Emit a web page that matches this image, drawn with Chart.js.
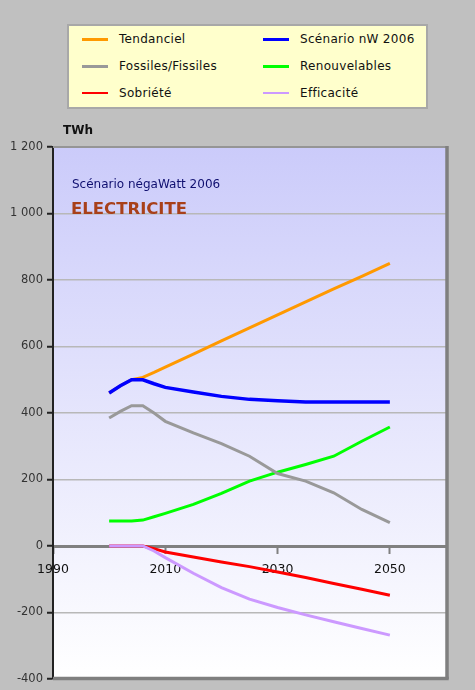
<!DOCTYPE html>
<html><head><meta charset="utf-8">
<script src="https://cdn.jsdelivr.net/npm/chart.js@4.4.1/dist/chart.umd.min.js"></script>
<style>
html,body{margin:0;padding:0;background:#c0c0c0;}
#wrap{position:relative;width:475px;height:690px;overflow:hidden;font-family:"DejaVu Sans",sans-serif;}
#c{position:absolute;left:0;top:0;}
#legend{position:absolute;left:67px;top:24px;width:361px;height:85px;box-sizing:border-box;background:#ffffcc;border:2px solid #a8a8a8;}
.li{position:absolute;height:16px;line-height:16px;font-size:12px;color:#111;white-space:nowrap;letter-spacing:0.3px;}
.sw{position:absolute;width:26px;}
.note{position:absolute;white-space:nowrap;}
</style></head><body>
<div id="wrap">
<canvas id="c" width="475" height="690"></canvas>
<div id="legend"></div>
<div class="note" style="left:63px;top:123px;font-size:12px;font-weight:bold;color:#111;">TWh</div>
<div class="note" style="left:72px;top:177px;font-size:12px;color:#101070;">Scénario négaWatt 2006</div>
<div class="note" style="left:71px;top:199px;font-size:16.5px;font-weight:bold;color:#a8401a;">ELECTRICITE</div>
</div>
<script>
// ---- data ----
const years = [2000, 2002, 2004, 2006, 2008, 2010, 2015, 2020, 2025, 2030, 2035, 2040, 2045, 2050];
const tendanciel    = [460, 482, 500, 507, 522, 538, 577, 617, 656, 695, 734, 773, 811, 850];
const scenarioNW    = [460, 482, 500, 500, 488, 477, 463, 450, 441, 437, 433, 433, 433, 433];
const fossiles      = [385, 405, 422, 422, 400, 375, 340, 308, 270, 218, 195, 160, 110, 70];
const renouvelables = [75, 75, 75, 78, 88, 98, 125, 158, 195, 222, 245, 270, 315, 358];
const sobriete      = [0, 0, 0, 0, -8, -18, -33, -48, -62, -78, -95, -113, -130, -148];
const efficacite    = [0, 0, 0, 0, -15, -35, -82, -125, -160, -185, -207, -228, -248, -268];
const seriesNames = ["Tendanciel", "Scénario nW 2006", "Fossiles/Fissiles", "Renouvelables", "Sobriété", "Efficacité"];
const seriesData = [tendanciel, scenarioNW, fossiles, renouvelables, sobriete, efficacite];
const seriesColors = ["#ff9900", "#0000ff", "#999999", "#00ff00", "#ff0000", "#cc99ff"];
const yTicks = [-400, -200, 0, 200, 400, 600, 800, 1000, 1200];
const xTicks = [1990, 2010, 2030, 2050];

// ---- legend (HTML) ----
const lw = [3, 3, 3, 3, 2, 2];
const leg = document.getElementById('legend');
seriesNames.forEach((n, i) => {
  const col = i % 2, row = Math.floor(i / 2);
  const cy = 13 + row * 27;
  const sw = document.createElement('div');
  sw.className = 'sw';
  sw.style.left = (col ? 194 : 13) + 'px';
  sw.style.top = (cy - lw[i] / 2) + 'px';
  sw.style.height = lw[i] + 'px';
  sw.style.background = seriesColors[i];
  leg.appendChild(sw);
  const t = document.createElement('div');
  t.className = 'li';
  t.style.left = (col ? 231 : 50) + 'px';
  t.style.top = (cy - 8) + 'px';
  t.textContent = n;
  leg.appendChild(t);
});

// ---- plugins ----
const bgPlugin = {
  id: 'bg',
  beforeDraw(chart) {
    const {ctx, chartArea: a} = chart;
    ctx.save();
    ctx.fillStyle = '#c0c0c0';
    ctx.fillRect(0, 0, chart.width, chart.height);
    const g = ctx.createLinearGradient(0, a.top, 0, a.bottom);
    g.addColorStop(0, '#cbcbfa');
    g.addColorStop(1, '#ffffff');
    ctx.fillStyle = g;
    ctx.fillRect(a.left, a.top, a.right - a.left, a.bottom - a.top);
    ctx.restore();
  },
  afterDatasetsDraw(chart) {
    const {ctx, chartArea: a} = chart;
    ctx.save();
    ctx.strokeStyle = '#959595';
    ctx.lineWidth = 2;
    ctx.beginPath(); ctx.moveTo(a.left, a.top); ctx.lineTo(a.right + 1, a.top); ctx.stroke();
    ctx.strokeStyle = '#7f7f7f';
    ctx.lineWidth = 3.5;
    ctx.beginPath(); ctx.moveTo(a.right + 1, a.top - 1); ctx.lineTo(a.right + 1, a.bottom); ctx.stroke();
    ctx.beginPath(); ctx.moveTo(a.left, a.bottom - 0.5); ctx.lineTo(a.right + 2.7, a.bottom - 0.5); ctx.stroke();
    ctx.restore();
  }
};

const orders = [3, 0, 4, 5, 2, 1];
const widths = [3, 3.5, 3, 3, 3, 3];
const datasets = seriesNames.map((n, i) => ({
  label: n,
  data: years.map((y, k) => ({x: y, y: seriesData[i][k]})),
  borderColor: seriesColors[i],
  backgroundColor: seriesColors[i],
  borderWidth: widths[i],
  pointRadius: 0,
  tension: 0,
  fill: false,
  order: orders[i]
}));

const fmt = v => String(v).replace(/\B(?=(\d{3})+(?!\d))/g, ' ');

new Chart(document.getElementById('c'), {
  type: 'line',
  data: {datasets},
  plugins: [bgPlugin],
  options: {
    responsive: false,
    animation: false,
    layout: {padding: {left: 0, top: 147, right: 29, bottom: 11}},
    plugins: {legend: {display: false}, tooltip: {enabled: false}},
    scales: {
      x: {
        type: 'linear',
        min: 1990, max: 2060,
        position: {y: 0},
        afterBuildTicks(s) { s.ticks = xTicks.map(v => ({value: v})); },
        ticks: {
          font: {family: 'DejaVu Sans', size: 12.5},
          color: '#111',
          padding: 10,
          maxRotation: 0,
          autoSkip: false,
          callback: v => String(v)
        },
        grid: {drawOnChartArea: false, tickLength: 6, tickColor: '#808080', tickWidth: 2},
        border: {display: true, color: '#808080', width: 3}
      },
      y: {
        min: -400, max: 1200,
        afterBuildTicks(s) { s.ticks = yTicks.map(v => ({value: v})); },
        afterFit(s) { s.width = 53; },
        ticks: {
          font: {family: 'DejaVu Sans', size: 11.5},
          color: '#333',
          padding: 4,
          callback: v => fmt(v)
        },
        grid: {color: '#b8b8b8', lineWidth: 1.5, tickLength: 6, tickColor: '#222', tickWidth: 2},
        border: {display: true, color: '#222', width: 2}
      }
    }
  }
});
</script>
</body></html>
